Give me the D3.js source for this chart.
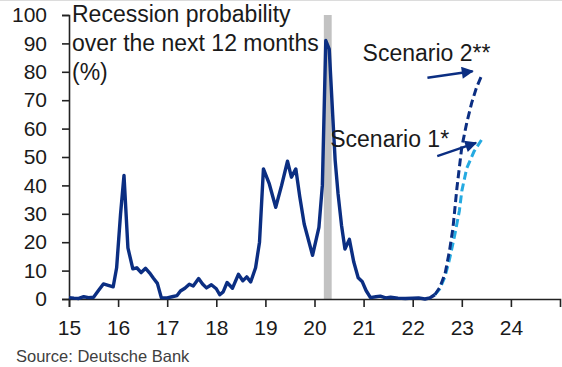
<!DOCTYPE html>
<html>
<head>
<meta charset="utf-8">
<script src="https://cdn.jsdelivr.net/npm/d3@7"></script>
<style>
  body { margin: 0; background: #fff; }
  svg { display: block; font-family: "Liberation Sans", Arial, sans-serif; }
  .tick text { fill: #1a1a1a; }
</style>
</head>
<body>
<svg id="chart" width="562" height="367"></svg>
<script>
// monthly-ish readings, decimal years (15 = 2015)
const histDates = [15.0, 15.1, 15.2, 15.3, 15.4, 15.5, 15.6, 15.7, 15.8, 15.9, 15.97, 16.05, 16.12, 16.2, 16.3,
  16.38, 16.47, 16.56, 16.64, 16.72, 16.8, 16.88, 17.0, 17.1, 17.2, 17.27, 17.36, 17.45, 17.53, 17.64, 17.72,
  17.8, 17.9, 18.0, 18.07, 18.14, 18.22, 18.33, 18.45, 18.54, 18.62, 18.7, 18.8, 18.88, 18.96, 19.08, 19.21,
  19.33, 19.45, 19.53, 19.62, 19.7, 19.79, 19.96, 20.09, 20.16, 20.23, 20.3, 20.37, 20.42, 20.48, 20.55, 20.62,
  20.71, 20.8, 20.89, 20.97, 21.05, 21.14, 21.25, 21.34, 21.45, 21.55, 21.7, 21.85, 22.0, 22.12, 22.25, 22.35,
  22.45];
const histValues = [0.5, 0.3, 0.2, 0.8, 0.5, 0.6, 3, 5.3, 4.8, 4.3, 11, 30, 43.5, 18, 10.6,
  11, 9.3, 10.8, 9.2, 7.3, 5.5, 0.5, 0.4, 0.8, 1.2, 2.8, 3.8, 5.2, 4.6, 7.2, 5.3,
  3.9, 5, 3.6, 1.5, 2.5, 5.8, 3.8, 8.7, 6.4, 7.8, 6, 11, 20, 45.8, 40.5, 32.3,
  40, 48.5, 42.9, 45.8, 36, 26.4, 15.4, 25.2, 40, 91, 88, 65, 49, 37, 26, 17.6,
  21, 13, 7.5, 6.2, 3, 0.5, 0.8, 1, 0.4, 0.6, 0.3, 0.2, 0.3, 0.4, 0, 0.4,
  1.5];

const scen2Dates = [22.45, 22.55, 22.66, 22.75, 22.82, 22.9, 23.0, 23.1, 23.2, 23.3, 23.4];
const scen2Values = [1.5, 4, 9, 17, 25, 39, 53.5, 62, 69, 74.5, 78.5];
const scen1Dates = [22.45, 22.55, 22.66, 22.75, 22.85, 22.95, 23.0, 23.1, 23.25, 23.4];
const scen1Values = [1.5, 3.5, 8, 14, 22, 31, 38, 46, 52, 56];

const recession = [20.19, 20.35];
const xTicks = [15, 16, 17, 18, 19, 20, 21, 22, 23, 24];
const yTicks = [0, 10, 20, 30, 40, 50, 60, 70, 80, 90, 100];
const titleLines = ["Recession probability", "over the next 12 months", "(%)"];

const navy = "#0b2e82";
const cyan = "#25aae1";

const svg = d3.select("#chart");
const margin = {left: 69, top: 15, right: 2, bottom: 68};
const width = +svg.attr("width");
const height = +svg.attr("height");

const x = d3.scaleLinear().domain([15, 25]).range([margin.left, width - margin.right]);
const y = d3.scaleLinear().domain([0, 100]).range([height - margin.bottom, margin.top]);

// thin frame line at the very top
svg.append("line")
  .attr("x1", 0).attr("x2", width).attr("y1", 0.5).attr("y2", 0.5)
  .attr("stroke", "#dcdcdc");

// recession shading
svg.append("rect")
  .attr("x", x(recession[0]))
  .attr("width", x(recession[1]) - x(recession[0]))
  .attr("y", y(100))
  .attr("height", y(0) - y(100))
  .attr("fill", "#c2c2c2");

const yAxis = d3.axisLeft(y)
  .tickValues(yTicks)
  .tickSize(7)
  .tickPadding(15);
svg.append("g")
  .attr("transform", `translate(${margin.left},0)`)
  .call(yAxis)
  .call(g => g.selectAll("text").style("font-size", "21px"));

const xAxis = d3.axisBottom(x)
  .tickValues(xTicks)
  .tickSizeInner(8)
  .tickSizeOuter(8)
  .tickPadding(13)
  .tickFormat(d3.format(""));
svg.append("g")
  .attr("transform", `translate(0,${y(0)})`)
  .call(xAxis)
  .call(g => g.selectAll("text").style("font-size", "21px"));

svg.selectAll(".domain, .tick line").attr("stroke", "#222").attr("stroke-width", 1.6);

const line = d3.line()
  .x(d => x(d[0]))
  .y(d => y(d[1]));

const hist = d3.zip(histDates, histValues);
const scen1 = d3.zip(scen1Dates, scen1Values);
const scen2 = d3.zip(scen2Dates, scen2Values);

svg.append("path")
  .attr("d", line(hist))
  .attr("fill", "none")
  .attr("stroke", navy)
  .attr("stroke-width", 3.4)
  .attr("stroke-linejoin", "round");

svg.append("path")
  .attr("d", line(scen1))
  .attr("fill", "none")
  .attr("stroke", cyan)
  .attr("stroke-width", 3)
  .attr("stroke-dasharray", "8,4");

svg.append("path")
  .attr("d", line(scen2))
  .attr("fill", "none")
  .attr("stroke", navy)
  .attr("stroke-width", 3)
  .attr("stroke-dasharray", "8,4");

// title
svg.append("text")
  .attr("x", 72)
  .attr("y", 22)
  .style("font-size", "23px")
  .attr("fill", "#1a1a1a")
  .selectAll("tspan")
  .data(titleLines)
  .enter()
  .append("tspan")
    .attr("x", 72)
    .attr("dy", (d, i) => i === 0 ? 0 : 29)
    .text(d => d);

// scenario labels + arrows (placed in data units)
const notes = [
  {text: "Scenario 2**", at: [20.98, 83.8], from: [22.3, 77.9], to: [23.22, 80.2]},
  {text: "Scenario 1*", at: [20.32, 53.5], from: [22.5, 50.3], to: [23.29, 55]}
];

svg.append("defs").append("marker")
  .attr("id", "head")
  .attr("viewBox", "0 0 10 10")
  .attr("refX", 9).attr("refY", 5)
  .attr("markerWidth", 5.5).attr("markerHeight", 5)
  .attr("orient", "auto")
  .append("path")
    .attr("d", "M0,0L10,5L0,10Z")
    .attr("fill", navy);

notes.forEach(n => {
  svg.append("text")
    .attr("x", x(n.at[0]))
    .attr("y", y(n.at[1]))
    .style("font-size", "23px")
    .attr("fill", "#1a1a1a")
    .text(n.text);
  svg.append("line")
    .attr("x1", x(n.from[0])).attr("y1", y(n.from[1]))
    .attr("x2", x(n.to[0])).attr("y2", y(n.to[1]))
    .attr("stroke", navy)
    .attr("stroke-width", 2.4)
    .attr("marker-end", "url(#head)");
});

svg.append("text")
  .attr("x", 16)
  .attr("y", 362)
  .style("font-size", "16.5px")
  .attr("fill", "#404040")
  .text("Source: Deutsche Bank");
</script>
</body>
</html>
